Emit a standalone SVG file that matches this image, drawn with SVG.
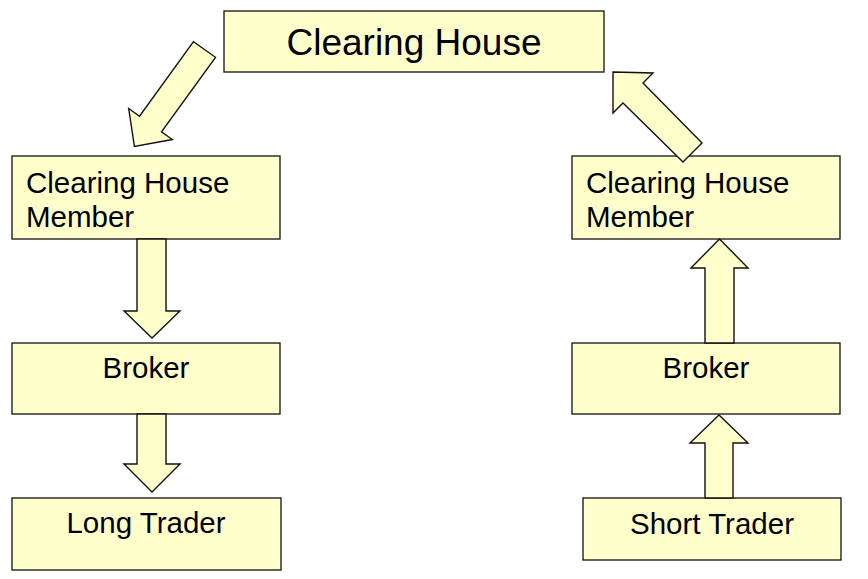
<svg xmlns="http://www.w3.org/2000/svg" width="868" height="579" viewBox="0 0 868 579">
<style>
.box{fill:#FFFFCC;stroke:#222;stroke-width:1.4}
.arr{fill:#FFFFCC;stroke:#111;stroke-width:1.4;stroke-linejoin:miter}
text{font-family:"Liberation Sans",Arial,sans-serif;fill:#000;font-size:29.5px}
.c{text-anchor:middle}
</style>
<rect width="868" height="579" fill="#fff"/>
<g id="clearing-house"><rect class="box" x="224" y="11" width="380" height="61"/><text class="c" x="414" y="55" style="font-size:37px">Clearing House</text></g>
<g id="chm-left"><rect class="box" x="12" y="156" width="268" height="83"/><text x="26" y="193">Clearing House</text><text x="26" y="227">Member</text></g>
<g id="broker-left"><rect class="box" x="12" y="343" width="268" height="71"/><text class="c" x="146" y="378">Broker</text></g>
<g id="long-trader"><rect class="box" x="12" y="498" width="269" height="72"/><text class="c" x="146" y="533">Long Trader</text></g>
<g id="chm-right"><rect class="box" x="572" y="156" width="268" height="83"/><text x="586" y="193">Clearing House</text><text x="586" y="227">Member</text></g>
<g id="broker-right"><rect class="box" x="572" y="343" width="268" height="71"/><text class="c" x="706" y="378">Broker</text></g>
<g id="short-trader"><rect class="box" x="583" y="498" width="258" height="62"/><text class="c" x="712" y="534">Short Trader</text></g>
<g id="connectors">
<polygon class="arr" points="193.5,41.7 139.5,116.2 128.7,108.5 134.4,146.5 172.3,139.5 161.5,131.8 215.5,57.3"/>
<polygon class="arr" points="137,239 137,311 124,311 152,338 180,311 166,311 166,239"/>
<polygon class="arr" points="137,414 137,464 124,464 152,492 180,464 166,464 166,414"/>
<polygon class="arr" points="705,343 705,268 691,268 719.5,239 748,268 734,268 734,343"/>
<polygon class="arr" points="705,498 705,443 690,443 719,415 748,443 733,443 733,498"/>
<polygon class="arr" points="613,72 653,73 643,83 702,143 683,162 623,103 613,113"/>
</g>
</svg>
